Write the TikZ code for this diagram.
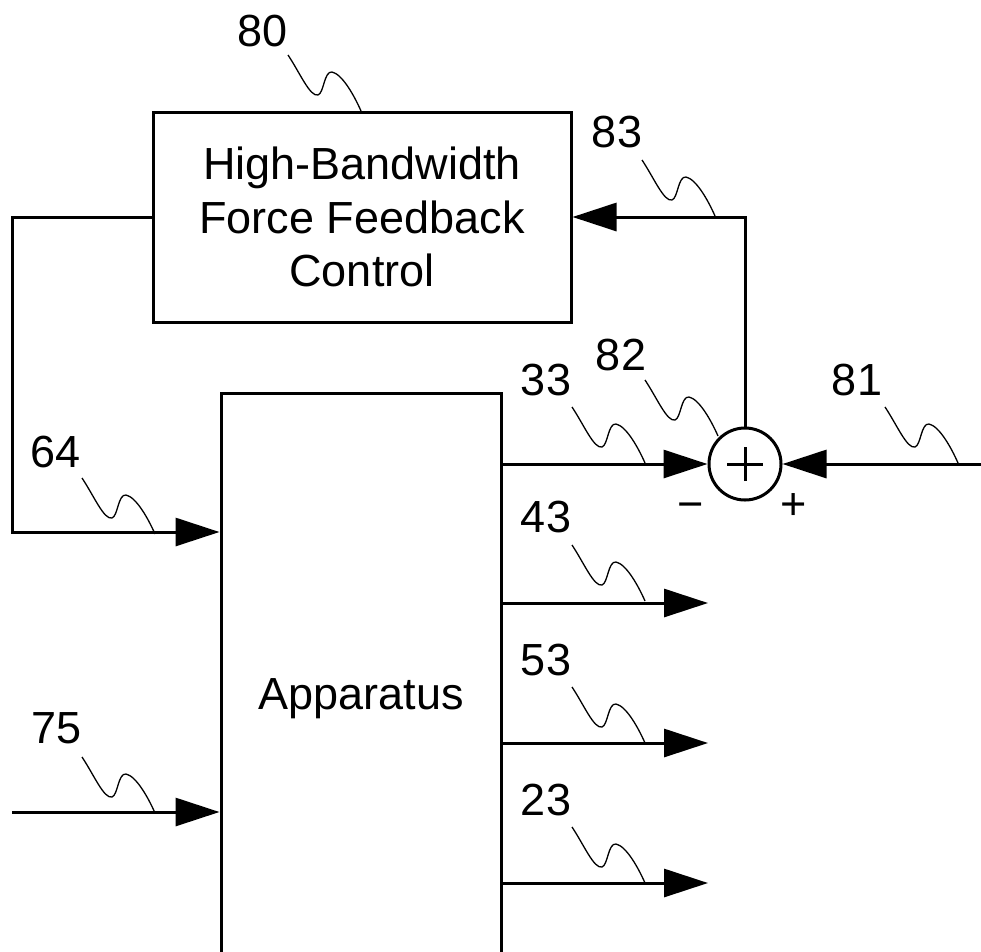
\documentclass[tikz,border=0pt]{standalone}
\usepackage{fontspec}
\setmainfont{Liberation Sans}
\usetikzlibrary{arrows.meta}
\begin{document}
\begin{tikzpicture}[x=1pt,y=-1pt,
  every node/.style={font=\fontsize{45}{53.5}\selectfont, inner sep=0pt},
  wire/.style={line width=3pt},
  arr/.style={wire, -{Triangle[length=44pt,width=28pt]}},
  blk/.style={draw, line width=3pt, rectangle, align=center},
  lbl/.style={anchor=base},
  squig/.pic={\draw[line width=1.3pt] (0,0) .. controls (12,18) and (22,42) .. (30,40)
     .. controls (36,38) and (36,16) .. (44,17) .. controls (54,19) and (66,40) .. (73,56);}
]
\useasboundingbox (0,0) rectangle (981,951);
\clip (0,0) rectangle (981,951);

% blocks
\node[blk, minimum width=418pt, minimum height=210pt] (ctrl) at (362,217)
  {High-Bandwidth\\Force Feedback\\Control};
\node[blk, minimum width=280pt, minimum height=612pt] (app) at (361,699) {Apparatus};
\node[draw, circle, line width=3pt, minimum size=72pt] (sum) at (745,464) {};
\draw[line width=3pt] ([xshift=-18pt]sum.center) -- ([xshift=18pt]sum.center);
\draw[line width=3pt] ([yshift=-17pt]sum.center) -- ([yshift=17pt]sum.center);
\node[lbl] (minus) at (690.5,519) {−};
\node[lbl] (plus) at (794,519) {+};

% coordinates for free ends
\coordinate (in81) at (981,464);
\coordinate (fbl) at (12,532);
\coordinate (in75) at (12,812);
\coordinate (o43) at (708,603);
\coordinate (o53) at (708,743);
\coordinate (o23) at (708,883);

% connectors
\draw[arr] (sum -| app.east) -- (sum.west);
\draw[arr] (in81) -- (sum.east);
\draw[arr] (sum.north) |- (ctrl.east);
\draw[arr] (ctrl.west) -| (fbl) -- (fbl -| app.west);
\draw[arr] (in75) -- (in75 -| app.west);
\draw[arr] (o43 -| app.east) -- (o43);
\draw[arr] (o53 -| app.east) -- (o53);
\draw[arr] (o23 -| app.east) -- (o23);

% labels
\node[lbl] (l80) at (263,46) {80};
\node[lbl] (l83) at (617,147) {83};
\node[lbl] (l33) at (546,395) {33};
\node[lbl] (l82) at (621,370) {82};
\node[lbl] (l81) at (857,395) {81};
\node[lbl] (l64) at (56,467) {64};
\node[lbl] (l43) at (546,532) {43};
\node[lbl] (l53) at (546,675) {53};
\node[lbl] (l23) at (546,815) {23};
\node[lbl] (l75) at (56.5,743) {75};

% leader squiggles
\pic at (288,55) {squig};
\pic at (642,160) {squig};
\pic at (572,407) {squig};
\pic at (645,380) {squig};
\pic at (885,407) {squig};
\pic at (82,478) {squig};
\pic at (572,545) {squig};
\pic at (572,687) {squig};
\pic at (572,827) {squig};
\pic at (82,757) {squig};
\end{tikzpicture}
\end{document}
